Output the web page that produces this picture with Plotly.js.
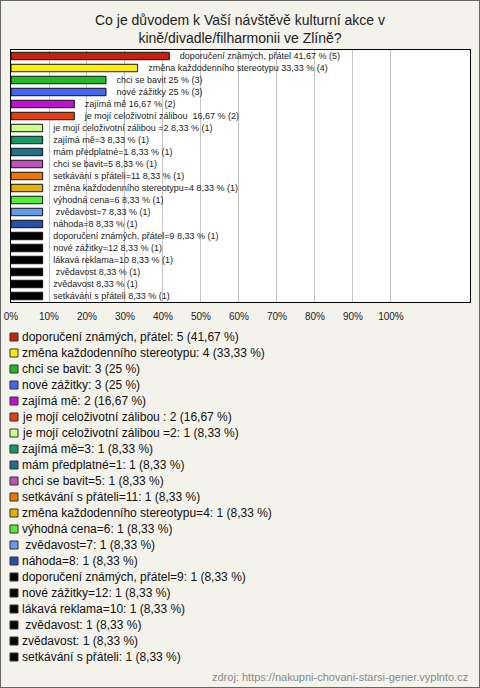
<!DOCTYPE html>
<html>
<head>
<meta charset="utf-8">
<script src="https://cdn.plot.ly/plotly-3.0.1.min.js"></script>
<style>
  html, body { margin: 0; padding: 0; background: #F3F2EB; }
  #wrap { position: relative; width: 480px; height: 688px; }
  #chart { width: 480px; height: 688px; }
  #frame { position: absolute; left: 0; top: 0; width: 478px; height: 686px; border: 1px solid #666; pointer-events: none; }
</style>
</head>
<body>
<div id="wrap"><div id="chart"></div><div id="frame"></div></div>
<script>
// ---- data ----
const categories = [
  "doporučení známých, přátel",
  "změna každodenního stereotypu",
  "chci se bavit",
  "nové zážitky",
  "zajímá mě",
  "je mojí celoživotní zálibou ",
  "je mojí celoživotní zálibou =2",
  "zajímá mě=3",
  "mám předplatné=1",
  "chci se bavit=5",
  "setkávání s přáteli=11",
  "změna každodenního stereotypu=4",
  "výhodná cena=6",
  " zvědavost=7",
  "náhoda=8",
  "doporučení známých, přátel=9",
  "nové zážitky=12",
  "lákavá reklama=10",
  " zvědavost",
  "zvědavost",
  "setkávání s přáteli"
];
const counts = [5, 4, 3, 3, 2, 2, 1, 1, 1, 1, 1, 1, 1, 1, 1, 1, 1, 1, 1, 1, 1];
const percents = [41.67, 33.33, 25, 25, 16.67, 16.67, 8.33, 8.33, 8.33, 8.33, 8.33, 8.33, 8.33, 8.33, 8.33, 8.33, 8.33, 8.33, 8.33, 8.33, 8.33];
const colors = [
  "#C8200E", "#FFEE00", "#22BB22", "#4466EE", "#C010D0", "#E04010",
  "#CCFF88", "#119966", "#1F7088", "#BB55BB", "#EE7700", "#E8B000",
  "#55EE33", "#6699E6", "#2A4FAA",
  "#000000", "#000000", "#000000", "#000000", "#000000", "#000000"
];
const tickVals = [0, 10, 20, 30, 40, 50, 60, 70, 80, 90, 100];
const tickLabels = ["0%", "10%", "20%", "30%", "40%", "50%", "60%", "70%", "80%", "90%", "100%"];
const titleText = "Co je důvodem k Vaší návštěvě kulturní akce v<br>kině/divadle/filharmonii ve Zlíně?";
const sourceText = "zdroj: https://nakupni-chovani-starsi-gener.vyplnto.cz";

// ---- helpers ----
const fmt = v => String(v).replace(".", ",");
const nb = s => s.replace(/^ /, "\u00a0").replace(/  /g, " \u00a0");
const W = 480, H = 688;
const M = { l: 11, r: 10, t: 50, b: 386 };
const PW = W - M.l - M.r, PH = H - M.t - M.b;
const pxX = px => (px - M.l) / PW;
const pxY = py => (H - M.b - py) / PH;
const FONT = "Arial, 'Liberation Sans', sans-serif";

const positions = categories.map((c, i) => i);
const barText = categories.map((c, i) => nb("\u00a0\u00a0\u00a0" + c + " " + fmt(percents[i]) + " % (" + counts[i] + ")"));
const legendText = categories.map((c, i) => nb(c + ": " + counts[i] + " (" + fmt(percents[i]) + " %)"));

const trace = {
  type: "bar",
  orientation: "h",
  x: percents,
  y: positions,
  width: 0.62,
  marker: { color: colors, line: { color: "#111111", width: 1 } },
  text: barText,
  textposition: "outside",
  constraintext: "none",
  cliponaxis: false,
  textfont: { family: FONT, size: 9, color: "#222222" },
  hoverinfo: "skip",
  showlegend: false
};

const annotations = [];
const shapes = [];
const rowTop = 337, rowStep = 16;
categories.forEach((c, i) => {
  const cy = rowTop + i * rowStep;
  shapes.push({
    type: "rect", xref: "paper", yref: "paper",
    x0: pxX(10), x1: pxX(18), y0: pxY(cy + 4), y1: pxY(cy - 4),
    fillcolor: colors[i], line: { color: "#333333", width: 1 }
  });
  annotations.push({
    xref: "paper", yref: "paper", x: pxX(20), y: pxY(cy),
    xanchor: "left", yanchor: "middle", showarrow: false,
    text: legendText[i],
    font: { family: FONT, size: 12, color: "#111111" }
  });
});
annotations.push({
  xref: "paper", yref: "paper", x: pxX(470), y: pxY(677),
  xanchor: "right", yanchor: "middle", showarrow: false,
  text: sourceText,
  font: { family: FONT, size: 11, color: "#8A8A8A" }
});

const layout = {
  width: W, height: H,
  margin: M,
  paper_bgcolor: "#F3F2EB",
  plot_bgcolor: "#FFFFFF",
  title: {
    text: titleText,
    x: 0.5, xref: "container", xanchor: "center",
    y: 1 - 25 / H, yref: "container", yanchor: "top",
    font: { family: FONT, size: 14, color: "#222222" }
  },
  xaxis: {
    range: [0, 120.8],
    tickvals: tickVals, ticktext: tickLabels,
    showgrid: true, gridcolor: "#C4C4C4", gridwidth: 1,
    zeroline: false,
    showline: true, mirror: true, linecolor: "#000000", linewidth: 1,
    ticks: "", ticklen: 0,
    ticklabelstandoff: 5,
    tickfont: { family: FONT, size: 10, color: "#222222" },
    fixedrange: true
  },
  yaxis: {
    range: [categories.length - 0.5, -0.5],
    showticklabels: false, showgrid: false, zeroline: false,
    showline: true, mirror: true, linecolor: "#000000", linewidth: 1,
    ticks: "", fixedrange: true
  },
  shapes: shapes,
  annotations: annotations,
  showlegend: false
};

Plotly.newPlot("chart", [trace], layout, { displayModeBar: false, staticPlot: true });
</script>
</body>
</html>
